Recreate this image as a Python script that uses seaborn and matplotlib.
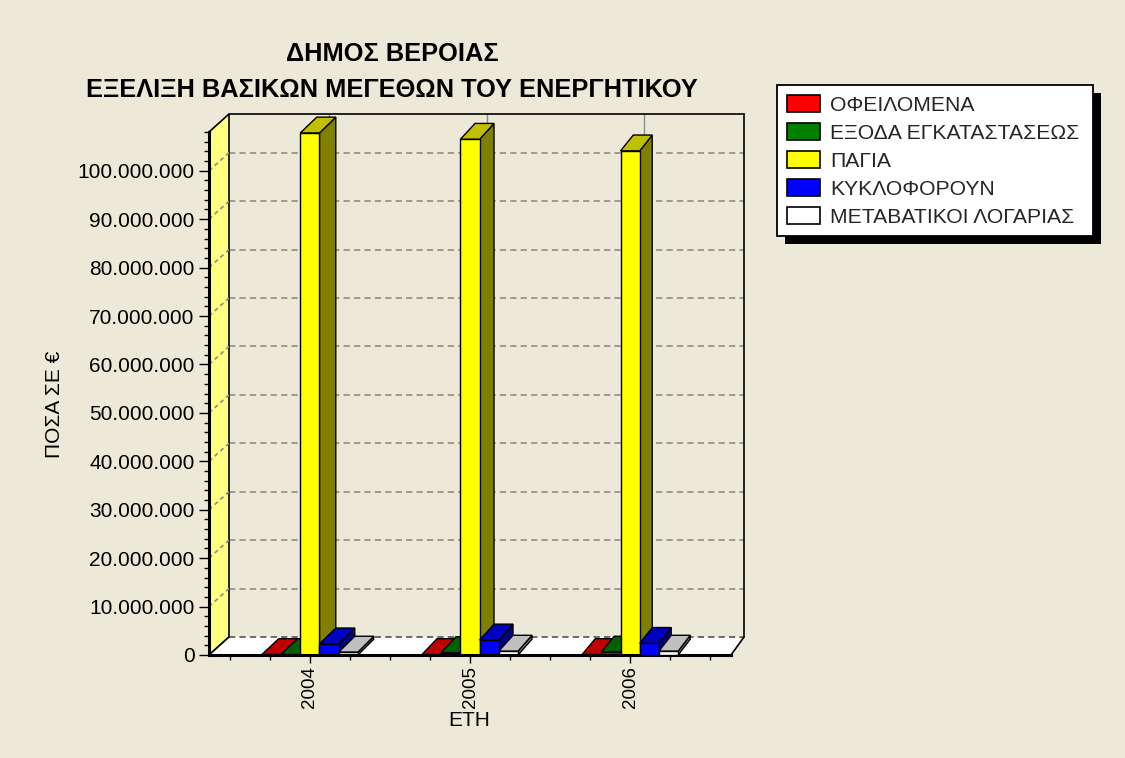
import numpy as np
import pandas as pd
import matplotlib
matplotlib.use("Agg")
import matplotlib.pyplot as plt
import seaborn as sns
from matplotlib.patches import Polygon, Rectangle, Patch
from matplotlib.lines import Line2D
from matplotlib.transforms import IdentityTransform
from matplotlib.ticker import MultipleLocator, FixedLocator, FuncFormatter

# ---------------- data ----------------
years = ["2004", "2005", "2006"]
series_names = ["ΟΦΕΙΛΟΜΕΝΑ", "ΕΞΟΔΑ ΕΓΚΑΤΑΣΤΑΣΕΩΣ", "ΠΑΓΙΑ",
                "ΚΥΚΛΟΦΟΡΟΥΝ", "ΜΕΤΑΒΑΤΙΚΟΙ ΛΟΓΑΡΙΑΣ"]
ofeilomena = [0.1e6, 0.1e6, 0.1e6]
exoda = [0.1e6, 0.5e6, 0.6e6]
pagia = [107.8e6, 106.5e6, 104.1e6]
kykloforoun = [2.3e6, 3.1e6, 2.4e6]
metavatikoi = [0.6e6, 0.8e6, 0.8e6]
values = [ofeilomena, exoda, pagia, kykloforoun, metavatikoi]

title_lines = ["ΔΗΜΟΣ ΒΕΡΟΙΑΣ", "ΕΞΕΛΙΞΗ ΒΑΣΙΚΩΝ ΜΕΓΕΘΩΝ ΤΟΥ ΕΝΕΡΓΗΤΙΚΟΥ"]
ylabel = "ΠΟΣΑ ΣΕ €"
xlabel = "ΕΤΗ"

# ---------------- style ----------------
BG = "#ECE9D8"
front_cols = ["#FF0000", "#008000", "#FFFF00", "#0000FF", "#FFFFFF"]
top_cols = ["#C00000", "#006000", "#C0C000", "#0000C0", "#C0C0C0"]
side_cols = ["#800000", "#004000", "#808000", "#000080", "#808080"]
WALL_COL = "#FFFF80"
GRID_COL = "#8C8C8C"

sns.set_theme(style="white")
plt.rcParams["font.family"] = ["Liberation Sans", "DejaVu Sans"]
plt.rcParams["lines.scale_dashes"] = False

W, H = 1125, 758
fig = plt.figure(figsize=(W / 100, H / 100), dpi=100, facecolor=BG)
ax = fig.add_axes([209 / W, 103 / H, 522 / W, 523 / H])
ax.set_facecolor("none")

df = pd.DataFrame({
    "year": [y for s in series_names for y in years],
    "series": [s for s in series_names for _ in years],
    "value": [v for vals in values for v in vals],
})

sns.barplot(data=df, x="year", y="value", hue="series", hue_order=series_names,
            order=years, palette=front_cols, width=0.6, saturation=1,
            edgecolor="black", linewidth=1, errorbar=None, legend=False, ax=ax)

ax.set_xlim(-0.63, 2.63)
ax.set_ylim(0, 108e6)
ax.set_xlabel("")
ax.set_ylabel("")

# axes / ticks
for s in ["top", "right"]:
    ax.spines[s].set_visible(False)
for s in ["left", "bottom"]:
    ax.spines[s].set_color("black")
    ax.spines[s].set_linewidth(2.2)
    ax.spines[s].set_zorder(50)
ax.yaxis.set_major_locator(MultipleLocator(10e6))
ax.yaxis.set_minor_locator(MultipleLocator(2e6))
ax.yaxis.set_major_formatter(FuncFormatter(lambda v, p: f"{int(round(v)):,}".replace(",", ".")))
ax.xaxis.set_minor_locator(FixedLocator([t for t in np.arange(-0.5, 2.51, 0.25)
                                         if abs(t - round(t)) > 1e-6]))
ax.tick_params(axis="y", which="major", direction="out", length=7.5, width=1,
               color="black", labelsize=15, labelcolor="black", pad=3, left=True)
ax.tick_params(axis="y", which="minor", direction="out", length=3.5, width=1,
               color="black", left=True)
ax.tick_params(axis="x", which="major", direction="out", length=6, width=1,
               color="black", labelsize=13.5, labelcolor="black", pad=2,
               labelrotation=90, bottom=True)
ax.tick_params(axis="x", which="minor", direction="out", length=3.5, width=1,
               color="black", bottom=True)
ax.grid(False)

# ---------------- pseudo 3-D ----------------
tr = ax.transData
inv = tr.inverted()
ylo, yhi = ax.get_ylim()
AX0, Y0 = tr.transform((ax.get_xlim()[0], ylo))
AX1, Y1 = tr.transform((ax.get_xlim()[1], yhi))
DX0, DX1, DY = 20.0, 13.0, 18.0
K = (DX0 - DX1) / (AX1 - AX0)


def dxy(X, f=1.0):
    return f * (DX0 - K * (X - AX0)), f * DY


def add_poly(pts, fc, ec="black", lw=1.0, z=1.0):
    ax.add_patch(Polygon(inv.transform(np.array(pts)), closed=True, facecolor=fc,
                         edgecolor=ec, linewidth=lw, clip_on=False, zorder=z))


def add_line(pts, color, lw=1.0, ls="-", z=1.0):
    d = inv.transform(np.array(pts))
    ax.add_line(Line2D(d[:, 0], d[:, 1], color=color, linewidth=lw, linestyle=ls,
                       clip_on=False, zorder=z))


dash = (0, (4.5, 3.0))
dx0, dy = dxy(AX0)
dx1, _ = dxy(AX1)
yticks_in = [t for t in ax.get_yticks() if ylo < t <= yhi]
xticks_in = [t for t in ax.get_xticks() if ax.get_xlim()[0] < t < ax.get_xlim()[1]]

# back wall gridlines
for t in yticks_in:
    Yg = tr.transform((0, t))[1]
    add_line([(AX0 + dx0, Yg + dy), (AX1 + dx1, Yg + dy)], GRID_COL, 1.2, dash, 0.5)
for t in xticks_in:
    Xc = tr.transform((t, 0))[0]
    dxc, _ = dxy(Xc)
    add_line([(Xc + dxc, Y0 + dy), (Xc + dxc, Y1 + dy)], GRID_COL, 1.0, "-", 0.4)

# back wall border
add_line([(AX0 + dx0, Y1 + dy), (AX1 + dx1, Y1 + dy)], "black", 1.2, "-", 0.6)
add_line([(AX1 + dx1, Y0 + dy), (AX1 + dx1, Y1 + dy)], "black", 1.2, "-", 0.6)

# left wall
add_poly([(AX0, Y0), (AX0, Y1), (AX0 + dx0, Y1 + dy), (AX0 + dx0, Y0 + dy)],
         WALL_COL, "black", 1.2, 1.0)
for t in yticks_in:
    Yg = tr.transform((0, t))[1]
    add_line([(AX0, Yg), (AX0 + dx0, Yg + dy)], GRID_COL, 1.2, (0, (3.0, 2.5)), 1.5)

# floor
add_poly([(AX0, Y0), (AX1, Y0), (AX1 + dx1, Y0 + dy), (AX0 + dx0, Y0 + dy)],
         "white", "none", 0, 1.0)
add_line([(AX0 + dx0, Y0 + dy), (AX1 + dx1, Y0 + dy)], "#555555", 1.2, dash, 1.6)
add_line([(AX0, Y0), (AX0 + dx0, Y0 + dy)], "black", 1.2, "-", 1.6)
add_line([(AX1, Y0), (AX1 + dx1, Y0 + dy)], "black", 1.2, "-", 1.6)

# bars: side + top faces, painted left to right
bars = []
for si, cont in enumerate(ax.containers):
    for p in cont.patches:
        bars.append((p.get_x(), si, p))
bars.sort(key=lambda b: b[0])
FB = 0.88
for i, (_, si, p) in enumerate(bars):
    z = 10 + 3 * i
    x0, w, h = p.get_x(), p.get_width(), p.get_height()
    Xl, Yb = tr.transform((x0, 0))
    Xr, Yt = tr.transform((x0 + w, h))
    dxl, ddy = dxy(Xl, FB)
    dxr, _ = dxy(Xr, FB)
    add_poly([(Xr, Yb), (Xr, Yt), (Xr + dxr, Yt + ddy), (Xr + dxr, Yb + ddy)],
             side_cols[si], "black", 1.0, z)
    add_poly([(Xl, Yt), (Xr, Yt), (Xr + dxr, Yt + ddy), (Xl + dxl, Yt + ddy)],
             top_cols[si], "black", 1.0, z + 1)
    p.set_zorder(z + 2)

# ---------------- texts ----------------
fig.text(392 / W, 1 - 61 / H, title_lines[0], ha="center", va="baseline",
         fontsize=18.3, fontweight="bold", color="black")
fig.text(392 / W, 1 - 97 / H, title_lines[1], ha="center", va="baseline",
         fontsize=18.3, fontweight="bold", color="black")
fig.text(54 / W, 1 - 404 / H, ylabel, ha="center", va="center", rotation=90,
         fontsize=15, color="black")
fig.text(469 / W, 1 - 720 / H, xlabel, ha="center", va="center",
         fontsize=15, color="black")

# ---------------- legend ----------------
handles = [Patch(facecolor=c, edgecolor="black", linewidth=1.2) for c in front_cols]
leg = fig.legend(handles, series_names, loc="upper left",
                 bbox_to_anchor=(777 / W, 1 - 85 / H), borderaxespad=0,
                 frameon=False, fontsize=15.2, handlelength=1.6,
                 handleheight=0.9, handletextpad=0.45, labelspacing=0.38,
                 borderpad=0.45)
leg.set_zorder(7)
fig.canvas.draw()
bb = leg.get_window_extent()
fx0, fy1 = 777, H - 85
fx1 = 1093
fy0 = min(bb.y0, H - 232)
fig.add_artist(Rectangle((fx0 + 8, fy0 - 8), fx1 - fx0, fy1 - fy0,
                         facecolor="black", edgecolor="none",
                         transform=IdentityTransform(), zorder=5))
fig.add_artist(Rectangle((fx0, fy0), fx1 - fx0, fy1 - fy0,
                         facecolor="white", edgecolor="black", linewidth=1.3,
                         transform=IdentityTransform(), zorder=6))

fig.savefig("out.png", dpi=100, facecolor=BG)
